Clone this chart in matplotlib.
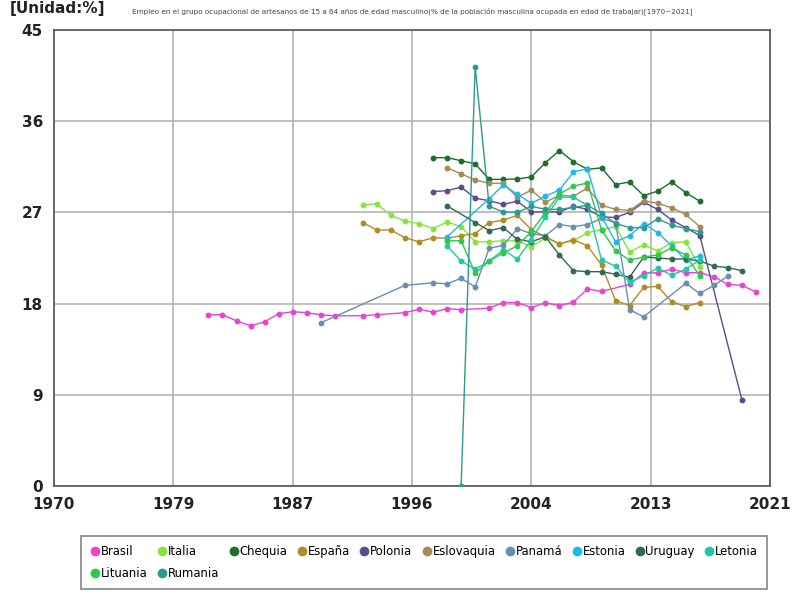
import matplotlib
matplotlib.use("Agg")
import matplotlib.pyplot as plt
from matplotlib.lines import Line2D

# ---------------- data ----------------
brasil_years = [1981, 1982, 1983, 1984, 1985, 1986, 1987, 1988, 1989, 1990, 1992, 1993, 1995, 1996, 1997, 1998, 1999,
                2001, 2002, 2003, 2004, 2005, 2006, 2007, 2008, 2009, 2011, 2012, 2013, 2014, 2015, 2016, 2017, 2018, 2019, 2020]
brasil_vals = [16.9, 16.9, 16.3, 15.8, 16.2, 17.0, 17.2, 17.1, 16.9, 16.8, 16.8, 16.9, 17.1, 17.45, 17.15, 17.5, 17.4,
               17.55, 18.1, 18.1, 17.6, 18.1, 17.8, 18.15, 19.45, 19.2, 19.9, 21.0, 21.05, 21.4, 21.05, 21.05, 20.65, 19.9, 19.8, 19.15]

italia_years = list(range(1992, 2017))
italia_vals = [27.76, 27.83, 26.7, 26.15, 25.9, 25.4, 26.05, 25.6, 24.1, 24.1, 24.2, 24.2, 23.6, 24.5, 23.9, 24.2, 25.0,
               25.3, 25.6, 23.1, 23.8, 23.2, 24.0, 24.1, 21.6]

chequia_years = list(range(1997, 2017))
chequia_vals = [32.4, 32.4, 32.1, 31.8, 30.26, 30.26, 30.3, 30.5, 31.9, 33.1, 32.0, 31.25, 31.4, 29.75, 30.0, 28.65,
                29.1, 30.0, 28.95, 28.1]

espana_years = list(range(1992, 2017))
espana_vals = [26.0, 25.26, 25.26, 24.5, 24.1, 24.5, 24.45, 24.7, 24.9, 26.0, 26.25, 26.7, 25.3, 24.6, 23.9, 24.3, 23.7,
               21.8, 18.3, 17.8, 19.6, 19.7, 18.2, 17.7, 18.1]

polonia_years = list(range(1997, 2017)) + [2019]
polonia_vals = [29.05, 29.15, 29.5, 28.4, 28.15, 27.8, 28.1, 27.05, 27.05, 27.05, 27.6, 27.3, 26.55, 26.5, 27.0, 28.0,
                27.3, 26.25, 25.5, 24.7, 8.5]

eslovaquia_years = list(range(1998, 2017))
eslovaquia_vals = [31.4, 30.8, 30.2, 29.87, 29.87, 28.5, 29.2, 28.0, 28.7, 28.6, 29.4, 27.7, 27.3, 27.2, 28.15, 27.9,
                   27.45, 26.8, 25.6]

panama_years = [1989, 1995, 1997, 1998, 1999, 2000, 2001, 2002, 2003, 2004, 2005, 2006, 2007, 2008, 2009, 2010, 2011,
                2012, 2015, 2016, 2017, 2018]
panama_vals = [16.1, 19.8, 20.05, 19.95, 20.5, 19.65, 23.45, 23.75, 25.4, 24.9, 24.7, 25.8, 25.6, 25.8, 26.4, 26.0,
               17.4, 16.7, 20.0, 19.0, 19.8, 20.7]

estonia_years = [1998, 2001, 2002, 2003, 2004, 2005, 2006, 2007, 2008, 2009, 2010, 2011, 2012, 2013, 2014, 2015, 2016]
estonia_vals = [24.6, 28.35, 29.7, 28.8, 27.9, 28.6, 29.2, 31.0, 31.3, 26.6, 24.1, 24.7, 25.9, 25.0, 23.7, 22.3, 22.7]

uruguay_years = [1998] + list(range(2000, 2020))
uruguay_vals = [27.65, 26.0, 25.2, 25.5, 24.35, 24.1, 24.6, 22.8, 21.25, 21.15, 21.15, 20.9, 20.6, 22.6, 22.5, 22.4,
                22.4, 22.2, 21.7, 21.55, 21.25]

letonia_years = list(range(1998, 2017))
letonia_vals = [23.7, 22.2, 21.4, 22.2, 23.3, 22.4, 24.3, 26.5, 28.5, 28.5, 27.7, 22.3, 21.7, 20.1, 20.75, 21.5,
                20.8, 21.4, 22.3]

lituania_years = list(range(1998, 2017))
lituania_vals = [24.2, 24.2, 21.0, 22.2, 23.0, 23.7, 25.1, 27.0, 28.8, 29.6, 29.9, 25.3, 23.2, 22.3, 22.6, 22.8,
                 23.5, 22.8, 20.7]

rumania_years = list(range(1999, 2017))
rumania_vals = [0.0, 41.35, 27.6, 27.05, 27.0, 27.6, 27.3, 27.3, 27.5, 27.7, 26.9, 25.9, 25.5, 25.5, 26.35, 25.75,
                25.4, 25.1]

names = ["Brasil", "Italia", "Chequia", "España", "Polonia", "Eslovaquia", "Panamá", "Estonia", "Uruguay",
         "Letonia", "Lituania", "Rumania"]
colors = ["#e845cf", "#86e43c", "#1b6e2c", "#b08c24", "#574f8c", "#a48a56", "#6b8db0", "#22b6ee", "#2e6a58",
          "#20c8a8", "#2fc84c", "#2a9c8e"]
series = [
    (brasil_years, brasil_vals), (italia_years, italia_vals), (chequia_years, chequia_vals),
    (espana_years, espana_vals), (polonia_years, polonia_vals), (eslovaquia_years, eslovaquia_vals),
    (panama_years, panama_vals), (estonia_years, estonia_vals), (uruguay_years, uruguay_vals),
    (letonia_years, letonia_vals), (lituania_years, lituania_vals), (rumania_years, rumania_vals),
]

x_ticks = [1970, 1978.5, 1987, 1995.5, 2004, 2012.5, 2021]
x_labels = ["1970", "1979", "1987", "1996", "2004", "2013", "2021"]
y_ticks = [0, 9, 18, 27, 36, 45]

title = "Empleo en el grupo ocupacional de artesanos de 15 a 64 años de edad masculino(% de la población masculina ocupada en edad de trabajar)[1970~2021]"

# ---------------- figure ----------------
plt.rcParams['font.family'] = ['DejaVu Sans']
fig = plt.figure(figsize=(8, 6), dpi=100)
ax = fig.add_axes([0.0675, 0.19, 0.895, 0.76])

for (xs, ys), c in zip(series, colors):
    ax.plot(xs, ys, color=c, linewidth=1.0, marker='o', markersize=3.2, zorder=3)

ax.set_xlim(1970, 2021)
ax.set_ylim(0, 45)
ax.set_xticks(x_ticks)
ax.set_xticklabels(x_labels)
ax.set_yticks(y_ticks)
ax.set_yticklabels([str(v) for v in y_ticks])
ax.grid(True, color="#b4b4b4", linewidth=1.2, zorder=0)
ax.tick_params(length=0, labelsize=11, pad=8)
for lab in ax.get_xticklabels() + ax.get_yticklabels():
    lab.set_fontweight('bold')
    lab.set_color('#222222')
for s in ax.spines.values():
    s.set_color('#555555')
    s.set_linewidth(1.2)

fig.text(0.515, 0.982, title, ha='center', va='center', fontsize=5.2, color='#444444')
fig.text(0.012, 0.986, "[Unidad:%]", ha='left', va='center', fontsize=11, fontweight='bold', color='#222222')

# legend (row-major order via column filling)
order = [0, 10, 1, 11, 2, 3, 4, 5, 6, 7, 8, 9]
handles = [Line2D([], [], linestyle='none', marker='o', markersize=6, color=colors[i]) for i in order]
labels = [names[i] for i in order]
leg = fig.legend(handles, labels, loc='center', bbox_to_anchor=(0.53, 0.0625), ncol=10, fontsize=8.4,
                 frameon=True, fancybox=False, edgecolor='#666666', handletextpad=0.05, columnspacing=0.78,
                 borderpad=0.8, labelspacing=0.75, handlelength=0.9)
leg.get_frame().set_linewidth(1.2)

fig.savefig("out.png", dpi=100)
